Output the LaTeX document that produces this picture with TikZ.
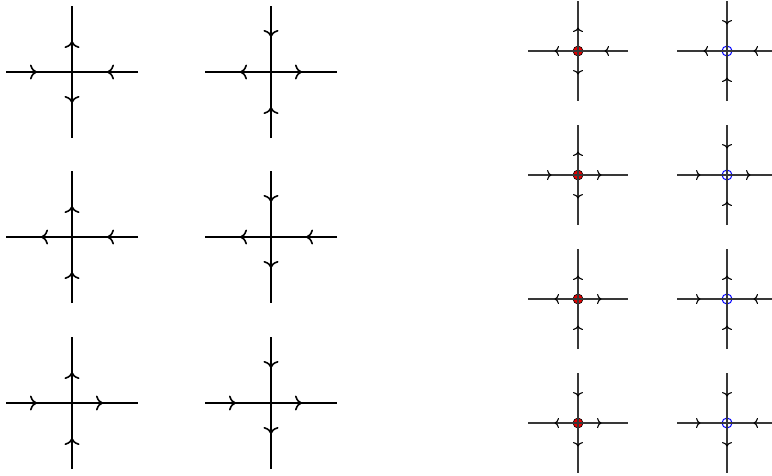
\documentclass[tikz,border=0pt]{standalone}
\usetikzlibrary{arrows.meta,decorations.markings}
\tikzset{
  bigarm/.style={line width=1.6pt, draw=black, postaction={decorate},
    decoration={markings, mark=at position 0.47 with {\arrow{Computer Modern Rightarrow[length=7pt,width=15pt]}}}},
  smallarm/.style={line width=1.1pt, draw=black!78, postaction={decorate},
    decoration={markings, mark=at position 0.47 with {\arrow{Computer Modern Rightarrow[length=4.5pt,width=10pt,color=black]}}}},
  reddot/.style={circle, fill=red!90!black, draw=black, line width=0.6pt, minimum size=10pt, inner sep=0pt},
  bluedot/.style={circle, draw=blue, line width=1pt, minimum size=10pt, inner sep=0pt},
}
\newcommand\onearm[4]{\if i#4\relax\draw[#1] (#3) -- (#2);\else\draw[#1] (#2) -- (#3);\fi}
\newcommand\mkcross[9]{%
  \coordinate (#1c) at (#2,#3);
  \coordinate (#1w) at (#2-#4,#3);
  \coordinate (#1e) at (#2+#4,#3);
  \coordinate (#1n) at (#2,#3-#4);
  \coordinate (#1s) at (#2,#3+#4);
  \onearm{#5}{#1c}{#1w}{#6}
  \onearm{#5}{#1c}{#1e}{#7}
  \onearm{#5}{#1c}{#1n}{#8}
  \onearm{#5}{#1c}{#1s}{#9}
}
\begin{document}
\begin{tikzpicture}[x=1pt,y=-1pt]
\useasboundingbox (0,0) rectangle (772,475);
\clip (0,0) rectangle (772,475);
% left group
\mkcross{La}{72}{72}{66}{bigarm}{i}{i}{o}{o}
\mkcross{Lb}{271}{72}{66}{bigarm}{o}{o}{i}{i}
\mkcross{Lc}{72}{237}{66}{bigarm}{o}{i}{o}{i}
\mkcross{Ld}{271}{237}{66}{bigarm}{o}{i}{i}{o}
\mkcross{Le}{72}{403}{66}{bigarm}{i}{o}{o}{i}
\mkcross{Lf}{271}{403}{66}{bigarm}{i}{o}{i}{o}
% right group: dots
\node[reddot] (Radot) at (578,51) {};
\node[bluedot] (Rbdot) at (727,51) {};
\node[reddot] (Rcdot) at (578,175) {};
\node[bluedot] (Rddot) at (727,175) {};
\node[reddot] (Redot) at (578,299) {};
\node[bluedot] (Rfdot) at (727,299) {};
\node[reddot] (Rgdot) at (578,423) {};
\node[bluedot] (Rhdot) at (727,423) {};
% right group: crosses
\mkcross{Ra}{578}{51}{50}{smallarm}{o}{i}{o}{o}
\mkcross{Rb}{727}{51}{50}{smallarm}{o}{i}{i}{i}
\mkcross{Rc}{578}{175}{50}{smallarm}{i}{o}{o}{o}
\mkcross{Rd}{727}{175}{50}{smallarm}{i}{o}{i}{i}
\mkcross{Re}{578}{299}{50}{smallarm}{o}{o}{o}{i}
\mkcross{Rf}{727}{299}{50}{smallarm}{i}{i}{o}{i}
\mkcross{Rg}{578}{423}{50}{smallarm}{o}{o}{i}{o}
\mkcross{Rh}{727}{423}{50}{smallarm}{i}{i}{i}{o}
\end{tikzpicture}
\end{document}
